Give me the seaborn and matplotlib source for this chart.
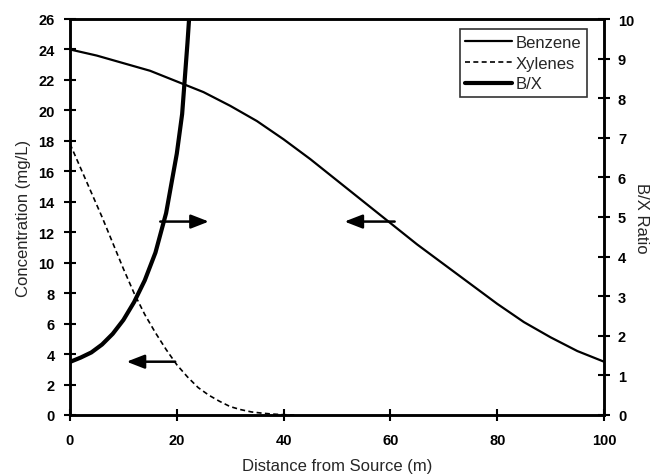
import matplotlib
matplotlib.use("Agg")
import matplotlib.pyplot as plt
import seaborn as sns
import pandas as pd

# ---- data ----
benzene_x = [0, 5, 10, 15, 20, 25, 30, 35, 40, 45, 50, 55, 60, 65, 70, 75, 80, 85, 90, 95, 100]
benzene_y = [24.0, 23.6, 23.1, 22.6, 21.9, 21.2, 20.3, 19.3, 18.1, 16.8, 15.4, 14.0, 12.6,
             11.2, 9.9, 8.6, 7.3, 6.1, 5.1, 4.2, 3.5]

xylenes_x = [0, 2, 4, 6, 8, 10, 12, 14, 16, 18, 20, 22, 24, 26, 28, 30, 32, 34, 36, 38, 40, 42]
xylenes_y = [17.8, 16.2, 14.6, 13.0, 11.3, 9.6, 8.0, 6.6, 5.4, 4.3, 3.3, 2.5, 1.8, 1.3, 0.9,
             0.55, 0.35, 0.2, 0.12, 0.06, 0.02, 0.0]

bx_x = [0, 2, 4, 6, 8, 10, 12, 14, 16, 18, 20, 21, 22, 22.6]
bx_y = [1.34, 1.45, 1.58, 1.78, 2.05, 2.4, 2.85, 3.4, 4.1, 5.1, 6.6, 7.6, 9.4, 10.6]

conc_ticks = list(range(0, 27, 2))
ratio_ticks = list(range(0, 11))
dist_ticks = [0, 20, 40, 60, 80, 100]

# annotation arrows: (tail_x, tail_y, head_x, head_y) in concentration units
arrow_right = (16.9, 12.7, 26.0, 12.7)      # from B/X curve toward right axis
arrow_left_benz = (60.8, 12.7, 51.4, 12.7)  # from benzene toward left axis
arrow_left_xyl = (19.7, 3.5, 10.6, 3.5)     # from xylenes toward left axis

sns.set_theme(style="ticks")
plt.rcParams["font.family"] = ["Liberation Sans", "DejaVu Sans"]

fig = plt.figure(figsize=(6.57, 4.77), dpi=100)
ax = fig.add_axes([70 / 657, 61 / 477, 534 / 657, 396 / 477])
ax2 = ax.twinx()

df_b = pd.DataFrame({"x": benzene_x, "y": benzene_y})
df_x = pd.DataFrame({"x": xylenes_x, "y": xylenes_y})
df_r = pd.DataFrame({"x": bx_x, "y": bx_y})

sns.lineplot(data=df_b, x="x", y="y", ax=ax, color="black", lw=1.6, label="Benzene", legend=False)
sns.lineplot(data=df_x, x="x", y="y", ax=ax, color="black", lw=1.2, linestyle=(0, (3, 2)),
             label="Xylenes", legend=False)
sns.lineplot(data=df_r, x="x", y="y", ax=ax2, color="black", lw=3.0, label="B/X", legend=False)

ax.set_xlim(0, 100)
ax.set_ylim(0, 26)
ax2.set_ylim(0, 10)
ax.set_xticks(dist_ticks)
ax.set_yticks(conc_ticks)
ax2.set_yticks(ratio_ticks)

for a in (ax, ax2):
    for s in a.spines.values():
        s.set_linewidth(1.8)
        s.set_color("black")
    a.tick_params(direction="inout", length=8, width=1.5, colors="black", labelsize=10.5)
    for lab in a.get_xticklabels() + a.get_yticklabels():
        lab.set_fontweight("bold")
ax.tick_params(axis="x", pad=9)
ax.tick_params(axis="y", pad=7)
ax2.tick_params(axis="y", pad=6)

ax.set_xlabel("Distance from Source (m)", fontsize=12, labelpad=8)
ax.set_ylabel("Concentration (mg/L)", fontsize=12, labelpad=5)
ax2.set_ylabel("B/X Ratio", fontsize=12, rotation=270, labelpad=11)
ax2.set_xlabel("")

for (x0, y0, x1, y1) in (arrow_right, arrow_left_benz, arrow_left_xyl):
    ax.annotate("", xy=(x1, y1), xytext=(x0, y0),
                arrowprops=dict(arrowstyle="-|>,head_length=0.9,head_width=0.35",
                                color="black", lw=1.8, shrinkA=0, shrinkB=0))

h1, l1 = ax.get_legend_handles_labels()
h2, l2 = ax2.get_legend_handles_labels()
leg = ax2.legend(h1 + h2, l1 + l2, loc="upper right", bbox_to_anchor=(0.968, 0.975),
                 frameon=True, fancybox=False, edgecolor="black", fontsize=12,
                 handlelength=2.8, handletextpad=0.2, borderpad=0.35, labelspacing=0.35,
                 borderaxespad=0.0)
leg.get_frame().set_linewidth(1.2)

fig.savefig("out.png", dpi=100)
